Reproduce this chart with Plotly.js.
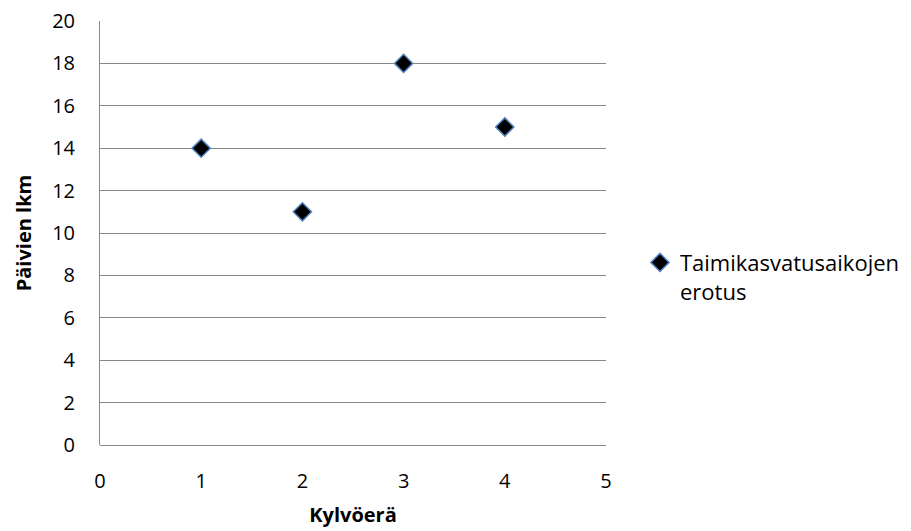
<!DOCTYPE html>
<html><head><meta charset="utf-8">
<script src="https://cdn.plot.ly/plotly-3.0.1.min.js"></script>
<style>body{margin:0;background:#fff}#c{width:911px;height:531px}</style>
</head><body><div id="c"></div>
<script>
const batches = [1, 2, 3, 4];
const days = [14, 11, 18, 15];
const seriesName = "Taimikasvatusaikojen<br>erotus";
const xTitle = "Kylvöerä";
const yTitle = "Päivien lkm";
const fontFam = "Open Sans, Liberation Sans, sans-serif";

Plotly.newPlot("c", [{
  x: batches, y: days, type: "scatter", mode: "markers", name: seriesName,
  marker: {symbol: "diamond", size: 14, color: "#000000", line: {color: "#4F81BD", width: 1.5}}
}], {
  width: 911, height: 531,
  margin: {l: 100, r: 305, t: 21, b: 86},
  paper_bgcolor: "#fff", plot_bgcolor: "#fff",
  font: {family: fontFam, size: 20, color: "#000"},
  showlegend: true,
  legend: {xref: "container", yref: "container", x: 0.7025, y: 0.545, xanchor: "left", yanchor: "top",
    valign: "top", font: {size: 22}, itemwidth: 30},
  xaxis: {range: [0, 5], dtick: 1, showgrid: false, zeroline: false, showline: false,
    ticks: "", ticklabelstandoff: 22, tickfont: {size: 20},
    title: {text: "<b>" + xTitle + "</b>", font: {size: 20}, standoff: 14}},
  yaxis: {range: [0, 20], dtick: 2, showgrid: true, gridcolor: "#888888", gridwidth: 1,
    zeroline: true, zerolinecolor: "#888888", zerolinewidth: 1,
    showline: true, linecolor: "#888888", linewidth: 1, ticks: "", ticklabelstandoff: 20,
    tickfont: {size: 20},
    title: {text: "<b>" + yTitle + "</b>", font: {size: 20}, standoff: 15}}
}, {staticPlot: true});
</script></body></html>
